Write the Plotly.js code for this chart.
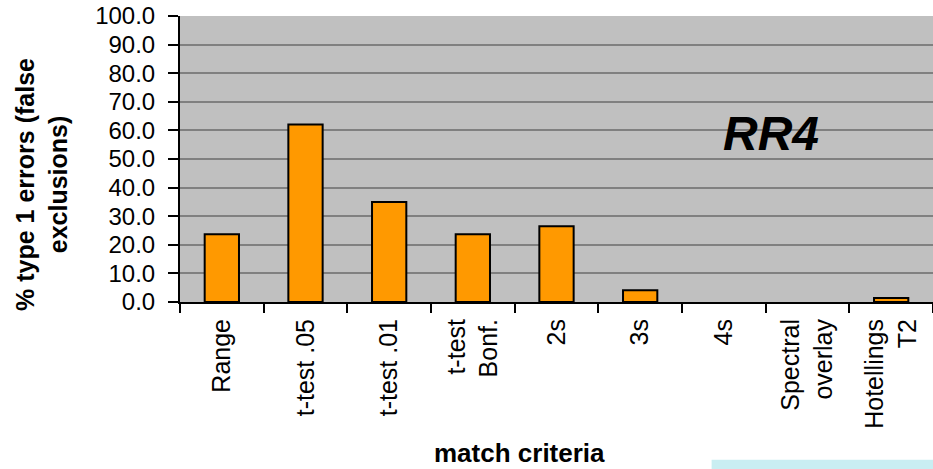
<!DOCTYPE html>
<html>
<head>
<meta charset="utf-8">
<script src="https://cdn.plot.ly/plotly-3.0.1.min.js"></script>
<style>
  html, body { margin: 0; padding: 0; background: #fff; }
  #grafico { width: 933px; height: 469px; }
</style>
</head>
<body>
<div id="grafico"></div>
<script>
// categorias e valores (% erros tipo 1)
let categorias = ['Range', 't-test .05', 't-test .01', 't-test<br>Bonf.', '2s', '3s', '4s', 'Spectral<br>overlay', 'Hotellings<br>T2'];
let valores = [23.7, 62.1, 35.0, 23.7, 26.5, 4.1, 0.0, 0.0, 1.4];
let ticksY = [0, 10, 20, 30, 40, 50, 60, 70, 80, 90, 100];

let fonte = 'Liberation Sans, Arial, sans-serif';

// barras com valor zero nao tem contorno
let contornos = valores.map(v => v > 0 ? 2 : 0);

var trace1 = {
  x: categorias,
  y: valores,
  type: 'bar',
  marker: {
    color: '#FF9900',
    line: { color: '#000000', width: contornos }
  },
  hoverinfo: 'x+y'
};

var layout = {
  width: 933,
  height: 469,
  margin: { l: 180, r: 0, t: 16, b: 167 },
  paper_bgcolor: '#ffffff',
  plot_bgcolor: '#C0C0C0',
  bargap: 0.59,
  showlegend: false,
  font: { family: fonte, color: '#000000' },
  xaxis: {
    type: 'category',
    tickangle: -90,
    tickson: 'boundaries',
    ticks: 'outside',
    ticklen: 9,
    tickwidth: 2,
    tickcolor: '#000000',
    showline: true,
    linecolor: '#000000',
    linewidth: 2,
    showgrid: false,
    ticklabelstandoff: 5,
    tickfont: { size: 25, family: fonte },
    fixedrange: true
  },
  yaxis: {
    range: [0, 100],
    tickvals: ticksY,
    tickformat: '.1f',
    ticks: 'outside',
    ticklen: 10,
    tickwidth: 2,
    tickcolor: '#000000',
    showline: true,
    linecolor: '#000000',
    linewidth: 2,
    showgrid: true,
    gridcolor: '#808080',
    gridwidth: 2,
    zeroline: false,
    ticklabelstandoff: 8,
    tickfont: { size: 24, family: fonte },
    fixedrange: true
  },
  annotations: [
    {
      text: '<b><i>RR4</i></b>',
      xref: 'paper', yref: 'paper',
      x: 0.785, y: 0.59,
      xanchor: 'center', yanchor: 'middle',
      showarrow: false,
      font: { size: 48, family: fonte }
    },
    {
      text: '<b>match criteria</b>',
      xref: 'paper', yref: 'paper',
      x: 0.4515, y: -0.528,
      xanchor: 'center', yanchor: 'middle',
      showarrow: false,
      font: { size: 26, family: fonte }
    },
    {
      text: '<b>% type 1 errors (false<br>exclusions)</b>',
      xref: 'paper', yref: 'paper',
      x: -0.183, y: 0.41,
      xanchor: 'center', yanchor: 'middle',
      textangle: -90,
      showarrow: false,
      font: { size: 25, family: fonte }
    }
  ],
  shapes: [
    {
      type: 'rect', xref: 'paper', yref: 'paper',
      x0: 0.706, x1: 1.0, y0: -0.552, y1: -0.6,
      fillcolor: '#C9EEF2', line: { width: 0 }
    }
  ]
};

Plotly.newPlot('grafico', [trace1], layout, { displayModeBar: false, staticPlot: true });
</script>
</body>
</html>
